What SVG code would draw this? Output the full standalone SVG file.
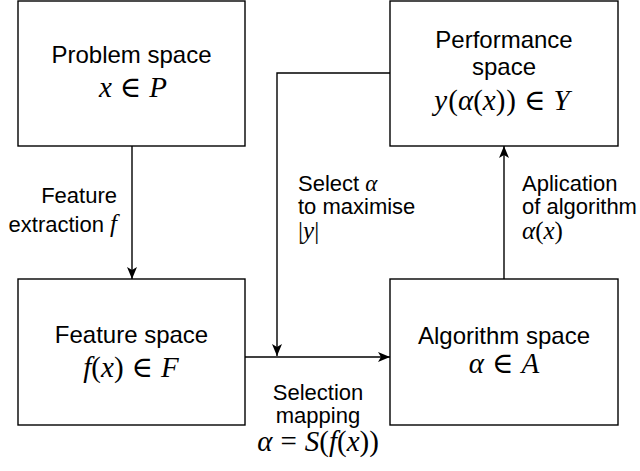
<svg xmlns="http://www.w3.org/2000/svg" width="640" height="471" viewBox="0 0 640 471">
<style>
.box{fill:#fff;stroke:#000;stroke-width:1.4}
.t{font-family:"Liberation Sans",Arial,sans-serif;font-size:24px;fill:#000}
.l{font-family:"Liberation Sans",Arial,sans-serif;font-size:22px;fill:#000}
.m{font-family:"Liberation Serif","DejaVu Serif",serif;font-size:29px;fill:#000}
.ms{font-family:"Liberation Serif","DejaVu Serif",serif;font-size:25px;fill:#000}
.mi{font-family:"Liberation Serif","DejaVu Serif",serif;font-size:23px}
.i{font-style:italic}
.c{fill:none;stroke:#000;stroke-width:1.4}
</style>
<defs>
<marker id="ah" viewBox="0 0 12 10" refX="12" refY="5" markerWidth="12" markerHeight="10" markerUnits="userSpaceOnUse" orient="auto">
<path d="M0,0 L12,5 L0,10 L3,5 z" fill="#000"/>
</marker>
</defs>
<g id="connectors">
<path class="c" d="M132,146 V279" marker-end="url(#ah)"/>
<path class="c" d="M390,73 H277 V356" marker-end="url(#ah)"/>
<path class="c" d="M245,357 H390" marker-end="url(#ah)"/>
<path class="c" d="M504,279 V146" marker-end="url(#ah)"/>
</g>
<g id="problem">
<rect class="box" x="18" y="1" width="227" height="145"/>
<text class="t" x="131.5" y="63" text-anchor="middle">Problem space</text>
<text class="m" x="133" y="97" text-anchor="middle"><tspan class="i">x</tspan><tspan dx="8">∈</tspan><tspan class="i" dx="8">P</tspan></text>
</g>
<g id="performance">
<rect class="box" x="390" y="1" width="228" height="145"/>
<text class="t" x="504" y="48" text-anchor="middle">Performance</text>
<text class="t" x="504" y="75" text-anchor="middle">space</text>
<text class="m" x="502" y="110" text-anchor="middle"><tspan class="i">y</tspan><tspan dx="1">(</tspan><tspan class="i">α</tspan>(<tspan class="i">x</tspan>)<tspan dx="1">)</tspan><tspan dx="8">∈</tspan><tspan class="i" dx="8">Y</tspan></text>
</g>
<g id="feature">
<rect class="box" x="18" y="279" width="227" height="146"/>
<text class="t" x="131.5" y="343" text-anchor="middle">Feature space</text>
<text class="m" x="131" y="377" text-anchor="middle"><tspan class="i">f</tspan>(<tspan class="i">x</tspan>)<tspan dx="8">∈</tspan><tspan class="i" dx="8">F</tspan></text>
</g>
<g id="algorithm">
<rect class="box" x="390" y="279" width="228" height="146"/>
<text class="t" x="504" y="344" text-anchor="middle">Algorithm space</text>
<text class="m" x="504" y="373" text-anchor="middle"><tspan class="i">α</tspan><tspan dx="8">∈</tspan><tspan class="i" dx="8">A</tspan></text>
</g>
<g id="labels">
<text class="l" x="117" y="203" text-anchor="end">Feature</text>
<text class="l" x="117" y="232" text-anchor="end">extraction <tspan class="ms i">f</tspan></text>
<text class="l" x="298" y="191">Select <tspan class="mi i">α</tspan></text>
<text class="l" x="298" y="214">to maximise</text>
<text class="ms" x="298" y="239">|<tspan class="i">y</tspan>|</text>
<text class="l" x="522" y="191">Aplication</text>
<text class="l" x="522" y="214">of algorithm</text>
<text class="ms" x="522" y="239"><tspan class="i">α</tspan>(<tspan class="i">x</tspan>)</text>
<text class="l" x="318" y="400" text-anchor="middle">Selection</text>
<text class="l" x="318" y="423" text-anchor="middle">mapping</text>
<text class="m" x="318" y="451" text-anchor="middle"><tspan class="i">α</tspan><tspan dx="8">=</tspan><tspan class="i" dx="8">S</tspan>(<tspan class="i">f</tspan>(<tspan class="i">x</tspan>))</text>
</g>
</svg>
